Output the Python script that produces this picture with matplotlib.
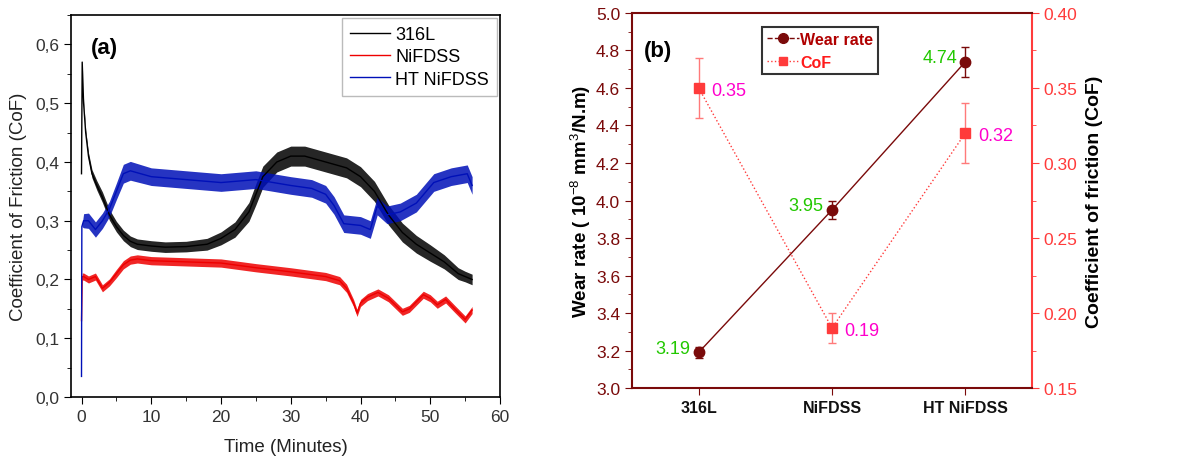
import matplotlib.pyplot as plt
from matplotlib.ticker import MultipleLocator, FuncFormatter
from matplotlib.lines import Line2D
import numpy as np

# ---- panel (a): friction curves (centre + band half width)
t_316 = [0.0, 0.1, 0.3, 0.6, 1.0, 1.5, 2.2, 3.0, 4.0, 5.0, 6.0, 7.0, 8.0, 10, 12, 15, 18, 20, 22, 24,
         25, 26, 28, 30, 32, 35, 38, 40, 42, 44, 46, 48, 50, 52, 54, 55, 56]
cof_316 = [0.38, 0.57, 0.50, 0.45, 0.41, 0.38, 0.36, 0.34, 0.31, 0.29, 0.275, 0.265, 0.26, 0.257, 0.255,
           0.256, 0.26, 0.27, 0.285, 0.315, 0.345, 0.375, 0.40, 0.41, 0.41, 0.40, 0.39, 0.375, 0.35, 0.31,
           0.28, 0.26, 0.245, 0.23, 0.21, 0.205, 0.20]
hw_316 = [0.0, 0.0, 0.004, 0.005, 0.006, 0.007, 0.008, 0.009, 0.009, 0.009, 0.009, 0.009, 0.009, 0.009,
          0.009, 0.009, 0.010, 0.011, 0.013, 0.016, 0.018, 0.018, 0.017, 0.017, 0.017, 0.017, 0.017, 0.017,
          0.017, 0.017, 0.016, 0.015, 0.014, 0.012, 0.010, 0.009, 0.009]

t_ni = [0.0, 0.1, 0.3, 1.0, 2.0, 3.0, 4.0, 5.0, 6.0, 7.0, 8.0, 10, 15, 20, 25, 30, 35, 37, 38, 39,
        39.5, 40, 41, 42.5, 44, 46, 47, 49, 50, 51, 52.2, 53.5, 55, 56]
cof_ni = [0.13, 0.205, 0.205, 0.20, 0.205, 0.185, 0.195, 0.21, 0.225, 0.233, 0.235, 0.232, 0.23, 0.228,
          0.22, 0.213, 0.205, 0.198, 0.185, 0.16, 0.143, 0.16, 0.17, 0.178, 0.168, 0.145, 0.15, 0.174,
          0.168, 0.157, 0.166, 0.15, 0.132, 0.148]
hw_ni = [0.0, 0.006, 0.006, 0.006, 0.006, 0.006, 0.006, 0.007, 0.007, 0.007, 0.007, 0.007, 0.007, 0.007,
         0.007, 0.007, 0.007, 0.007, 0.007, 0.006, 0.006, 0.006, 0.006, 0.006, 0.006, 0.006, 0.006, 0.006,
         0.006, 0.006, 0.006, 0.006, 0.006, 0.006]

t_ht = [0.0, 0.05, 0.3, 1.0, 2.0, 3.0, 4.0, 5.0, 6.0, 7.0, 10, 15, 20, 25, 30, 33, 35, 36.2, 37.6, 40,
        41.4, 42.4, 43.8, 45.7, 48, 50.5, 53, 55.3, 56]
cof_ht = [0.035, 0.29, 0.30, 0.30, 0.285, 0.30, 0.32, 0.35, 0.38, 0.385, 0.375, 0.37, 0.365, 0.37, 0.36,
          0.355, 0.345, 0.326, 0.295, 0.292, 0.285, 0.325, 0.31, 0.315, 0.33, 0.365, 0.375, 0.38, 0.36]
hw_ht = [0.0, 0.0, 0.012, 0.013, 0.013, 0.013, 0.013, 0.014, 0.016, 0.016, 0.015, 0.015, 0.015, 0.015,
         0.015, 0.015, 0.015, 0.015, 0.015, 0.015, 0.015, 0.015, 0.015, 0.015, 0.015, 0.015, 0.015, 0.015,
         0.015]

# ---- panel (b): wear rate and CoF per material
materials = ['316L', 'NiFDSS', 'HT NiFDSS']
wear_rate = [3.19, 3.95, 4.74]
wear_err = [0.03, 0.05, 0.08]
cof_mean = [0.35, 0.19, 0.32]
cof_err = [0.02, 0.01, 0.02]

plt.rcParams['font.family'] = ['Liberation Sans', 'DejaVu Sans']
plt.rcParams['mathtext.fontset'] = 'custom'
plt.rcParams['mathtext.rm'] = 'Liberation Sans'
plt.rcParams['mathtext.bf'] = 'Liberation Sans:bold'
fig = plt.figure(figsize=(11.86, 4.6), dpi=100)

# ------------------ (a)
ax1 = fig.add_axes([0.0599, 0.1348, 0.3617, 0.8302])
series = [(t_316, cof_316, hw_316, '#000000', '316L'),
          (t_ni, cof_ni, hw_ni, '#ee0000', 'NiFDSS'),
          (t_ht, cof_ht, hw_ht, '#0010b8', 'HT NiFDSS')]
for t, c, hw, col, lab in series:
    c = np.array(c)
    hw = np.array(hw)
    ax1.fill_between(t, c - hw, c + hw, color=col, alpha=0.85, lw=0)
    ax1.plot(t, c, color=col, lw=1.0, label=lab)

ax1.set_xlim(-1.5, 60)
ax1.set_ylim(0, 0.65)
ax1.xaxis.set_major_locator(MultipleLocator(10))
ax1.xaxis.set_minor_locator(MultipleLocator(5))
ax1.yaxis.set_major_locator(MultipleLocator(0.1))
ax1.yaxis.set_minor_locator(MultipleLocator(0.05))
ax1.yaxis.set_major_formatter(FuncFormatter(lambda v, p: f'{v:.1f}'.replace('.', ',')))
ax1.tick_params(which='both', direction='out', top=False, right=False, labelsize=12.5,
                labelcolor='#333333')
ax1.tick_params(which='major', length=5)
ax1.tick_params(which='minor', length=3)
for s in ax1.spines.values():
    s.set_linewidth(1.2)
ax1.set_xlabel('Time (Minutes)', fontsize=13.5, color='#222222', labelpad=10)
ax1.set_ylabel('Coefficient of Friction (CoF)', fontsize=13.5, color='#222222', labelpad=6)
ax1.text(1.4, 0.595, '(a)', fontsize=16, fontweight='bold', ha='left', va='center')
leg = ax1.legend(loc='upper right', bbox_to_anchor=(0.993, 0.993), borderaxespad=0, fontsize=13,
                 frameon=True, fancybox=False, handlelength=2.2, handletextpad=0.3, borderpad=0.45,
                 labelspacing=0.3)
leg.get_frame().set_edgecolor('#aaaaaa')
leg.get_frame().set_linewidth(1.0)

# ------------------ (b)
dark = '#7a0a0a'
light = '#ff3b3b'
ax2 = fig.add_axes([0.5329, 0.1543, 0.3373, 0.8153])
ax3 = ax2.twinx()
x = np.arange(len(materials))

ax2.errorbar(x, wear_rate, yerr=wear_err, color=dark, ecolor=dark, lw=1.0, marker='o', ms=7.5,
             capsize=3, elinewidth=1, capthick=1, zorder=3)
ax3.errorbar(x, cof_mean, yerr=cof_err, color=light, ecolor='#ff7a7a', lw=1.0, ls=':', marker='s',
             ms=6.5, capsize=3, elinewidth=1, capthick=1, zorder=3)

ax2.set_xlim(-0.5, 2.5)
ax2.set_ylim(3.0, 5.0)
ax3.set_ylim(0.15, 0.40)
ax2.set_xticks(x)
ax2.set_xticklabels(materials, fontsize=11.5, fontweight='bold')
ax2.yaxis.set_major_locator(MultipleLocator(0.2))
ax2.yaxis.set_minor_locator(MultipleLocator(0.1))
ax3.yaxis.set_major_locator(MultipleLocator(0.05))
ax3.yaxis.set_minor_locator(MultipleLocator(0.025))
ax2.yaxis.set_major_formatter(FuncFormatter(lambda v, p: f'{v:.1f}'))
ax3.yaxis.set_major_formatter(FuncFormatter(lambda v, p: f'{v:.2f}'))

ax2.tick_params(axis='y', which='both', direction='out', colors=dark, labelsize=12.5)
ax2.tick_params(axis='x', which='both', direction='out', colors=dark, labelcolor='#111111')
ax3.tick_params(axis='y', which='both', direction='out', colors=light, labelsize=12.5)
for a in (ax2, ax3):
    a.tick_params(which='major', length=5)
    a.tick_params(which='minor', length=3)
for name in ('left', 'bottom', 'top'):
    ax3.spines[name].set_color(dark)
    ax3.spines[name].set_linewidth(1.5)
ax3.spines['right'].set_color(light)
ax3.spines['right'].set_linewidth(1.5)
for s in ax2.spines.values():
    s.set_visible(False)

ax2.set_ylabel('Wear rate ( 10$^{-8}$ mm$^{3}$/N.m)', fontsize=13.5, fontweight='bold', labelpad=2)
ax3.set_ylabel('Coefficient of friction (CoF)', fontsize=14, fontweight='bold', labelpad=6)

for xi, v in zip(x, wear_rate):
    ax2.annotate(f'{v:.2f}', (xi, v), xytext=(-6, 3), textcoords='offset points', ha='right',
                 va='center', fontsize=13, color='#22c800')
for xi, v in zip(x, cof_mean):
    ax3.annotate(f'{v:.2f}', (xi, v), xytext=(9, -2), textcoords='offset points', ha='left',
                 va='center', fontsize=13, color='#ff00cc')

ax2.text(-0.41, 4.80, '(b)', fontsize=16, fontweight='bold', ha='left', va='center')

handles = [Line2D([], [], color=dark, lw=1.0, ls='--', marker='o', ms=7),
           Line2D([], [], color=light, lw=1.0, ls=':', marker='s', ms=6)]
leg2 = ax3.legend(handles, ['Wear rate', 'CoF'], loc='upper left', bbox_to_anchor=(0.325, 0.963),
                  borderaxespad=0, frameon=True, fancybox=False, handlelength=2.0, handletextpad=0.1,
                  borderpad=0.3, labelspacing=0.5, prop={'weight': 'bold', 'size': 11.5})
leg2.get_frame().set_edgecolor('black')
leg2.get_frame().set_linewidth(1.5)
for txt, col in zip(leg2.get_texts(), ['#b00000', '#ff1a1a']):
    txt.set_color(col)

fig.savefig('out.png', dpi=100)
